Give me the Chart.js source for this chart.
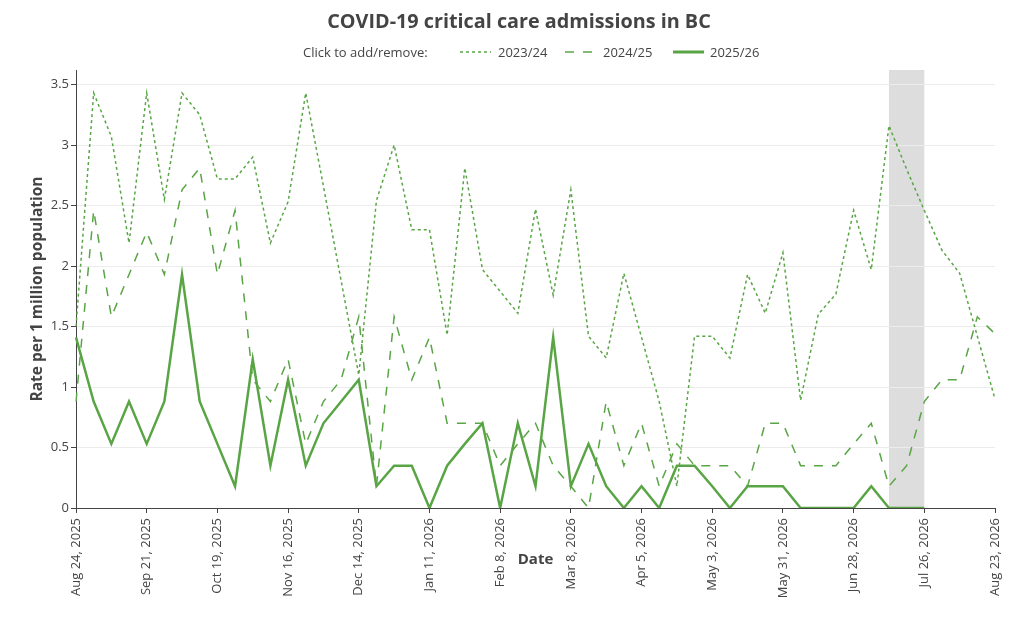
<!DOCTYPE html>
<html>
<head>
<meta charset="utf-8">
<script src="https://cdn.jsdelivr.net/npm/chart.js@4.4.1/dist/chart.umd.min.js"></script>
<style>
  html, body { margin: 0; padding: 0; background: #fff; }
  #wrap { position: relative; width: 1024px; height: 620px; font-family: 'Open Sans', sans-serif; color: #444; }
  #chart { position: absolute; left: 0; top: 0; }
  #title { position: absolute; left: 519px; top: 8px; transform: translateX(-50%); white-space: nowrap;
           font-size: 19.8px; font-weight: 700; line-height: 26px; color: #444; }
  .lg { position: absolute; top: 43px; font-size: 13px; line-height: 18px; white-space: nowrap; color: #444; }
  .lg.item { cursor: pointer; }
  .sw { position: absolute; top: 46px; cursor: pointer; }
</style>
</head>
<body>
<div id="wrap">
  <canvas id="chart" width="1024" height="620"></canvas>
  <div id="title">COVID-19 critical care admissions in BC</div>
  <div class="lg" style="left:303px">Click to add/remove:</div>
  <svg class="sw" data-ds="0" style="left:460px" width="31" height="12"><line x1="0" y1="6" x2="31" y2="6" stroke="#59a545" stroke-width="1.5" stroke-dasharray="3,3"/></svg>
  <div class="lg item" data-ds="0" style="left:498px">2023/24</div>
  <svg class="sw" data-ds="1" style="left:565px" width="31" height="12"><line x1="0" y1="6" x2="31" y2="6" stroke="#59a545" stroke-width="1.5" stroke-dasharray="9,9"/></svg>
  <div class="lg item" data-ds="1" style="left:603px">2024/25</div>
  <svg class="sw" data-ds="2" style="left:673px" width="31" height="12"><line x1="0" y1="6" x2="31" y2="6" stroke="#59a545" stroke-width="3"/></svg>
  <div class="lg item" data-ds="2" style="left:710px">2025/26</div>
</div>
<script>
// ---- data ----
const weeks = [
  'Aug 24, 2025','Aug 31, 2025','Sep 7, 2025','Sep 14, 2025','Sep 21, 2025','Sep 28, 2025','Oct 5, 2025','Oct 12, 2025',
  'Oct 19, 2025','Oct 26, 2025','Nov 2, 2025','Nov 9, 2025','Nov 16, 2025','Nov 23, 2025','Nov 30, 2025','Dec 7, 2025',
  'Dec 14, 2025','Dec 21, 2025','Dec 28, 2025','Jan 4, 2026','Jan 11, 2026','Jan 18, 2026','Jan 25, 2026','Feb 1, 2026',
  'Feb 8, 2026','Feb 15, 2026','Feb 22, 2026','Mar 1, 2026','Mar 8, 2026','Mar 15, 2026','Mar 22, 2026','Mar 29, 2026',
  'Apr 5, 2026','Apr 12, 2026','Apr 19, 2026','Apr 26, 2026','May 3, 2026','May 10, 2026','May 17, 2026','May 24, 2026',
  'May 31, 2026','Jun 7, 2026','Jun 14, 2026','Jun 21, 2026','Jun 28, 2026','Jul 5, 2026','Jul 12, 2026','Jul 19, 2026',
  'Jul 26, 2026','Aug 2, 2026','Aug 9, 2026','Aug 16, 2026','Aug 23, 2026'
];
const seasonNames = ['2023/24', '2024/25', '2025/26'];
const rate2023_24 = [
  1.50, 3.43, 3.07, 2.19, 3.43, 2.55, 3.43, 3.25, 2.72, 2.72, 2.90, 2.19, 2.53, 3.43, 2.66, 1.88,
  1.10, 2.54, 3.00, 2.30, 2.30, 1.43, 2.81, 1.97, 1.79, 1.61, 2.47, 1.76, 2.63, 1.42, 1.24, 1.94,
  1.41, 0.88, 0.18, 1.42, 1.42, 1.24, 1.93, 1.61, 2.11, 0.89, 1.60, 1.77, 2.46, 1.97, 3.16, 2.80,
  2.46, 2.13, 1.94, 1.42, 0.90
];
const rate2024_25 = [
  0.88, 2.46, 1.58, 1.93, 2.28, 1.93, 2.63, 2.81, 1.93, 2.46, 1.06, 0.88, 1.23, 0.53, 0.88, 1.06,
  1.58, 0.18, 1.58, 1.06, 1.41, 0.70, 0.70, 0.70, 0.35, 0.53, 0.70, 0.35, 0.18, 0.00, 0.88, 0.35,
  0.70, 0.18, 0.53, 0.35, 0.35, 0.35, 0.18, 0.70, 0.70, 0.35, 0.35, 0.35, 0.53, 0.70, 0.18, 0.35,
  0.88, 1.06, 1.06, 1.58, 1.44
];
const rate2025_26 = [
  1.41, 0.88, 0.53, 0.88, 0.53, 0.88, 1.93, 0.88, 0.53, 0.18, 1.23, 0.35, 1.06, 0.35, 0.70, 0.88,
  1.06, 0.18, 0.35, 0.35, 0.00, 0.35, 0.53, 0.70, 0.00, 0.70, 0.18, 1.41, 0.18, 0.53, 0.18, 0.00,
  0.18, 0.00, 0.35, 0.35, 0.18, 0.00, 0.18, 0.18, 0.18, 0.00, 0.00, 0.00, 0.00, 0.18, 0.00, 0.00,
  0.00, null, null, null, null
];
const yTickValues = [0, 0.5, 1, 1.5, 2, 2.5, 3, 3.5];
const highlightWeeks = ['Jul 12, 2026', 'Jul 26, 2026'];

// ---- styles ----
const GREEN = '#59a545';
const INK = '#444';

const bandPlugin = {
  id: 'band',
  beforeDraw(chart) {
    const xs = chart.scales.x, area = chart.chartArea, ctx = chart.ctx;
    const x1 = xs.getPixelForValue(weeks.indexOf(highlightWeeks[0]));
    const x2 = xs.getPixelForValue(weeks.indexOf(highlightWeeks[1]));
    ctx.save();
    ctx.fillStyle = '#dddddd';
    ctx.fillRect(x1, area.top, x2 - x1, area.bottom - area.top);
    ctx.restore();
  }
};

Chart.defaults.font.family = "'Open Sans', sans-serif";
Chart.defaults.color = INK;

const chart = new Chart(document.getElementById('chart'), {
  type: 'line',
  data: {
    labels: weeks,
    datasets: [
      { label: seasonNames[0], data: rate2023_24, borderColor: GREEN, borderWidth: 1.5, borderDash: [3, 3], order: 2 },
      { label: seasonNames[1], data: rate2024_25, borderColor: GREEN, borderWidth: 1.5, borderDash: [9, 9], order: 1 },
      { label: seasonNames[2], data: rate2025_26, borderColor: GREEN, borderWidth: 2.5, order: 0 }
    ]
  },
  options: {
    responsive: false,
    animation: false,
    layout: { padding: { top: 70, right: 29, bottom: 0, left: 0 } },
    elements: { point: { radius: 0, hoverRadius: 3 }, line: { tension: 0, fill: false } },
    interaction: { mode: 'index', intersect: false },
    plugins: { legend: { display: false }, title: { display: false } },
    scales: {
      x: {
        type: 'category',
        offset: false,
        grid: {
          drawOnChartArea: false,
          drawTicks: true,
          tickLength: 5,
          tickColor: (c) => (c.index % 4 === 0 ? INK : 'rgba(0,0,0,0)'),
          color: 'rgba(0,0,0,0)'
        },
        border: { display: true, color: INK, width: 1 },
        ticks: {
          autoSkip: false,
          minRotation: 90,
          maxRotation: 90,
          padding: 5,
          color: INK,
          font: { size: 13 },
          callback: function (v, i) { return i % 4 === 0 ? this.getLabelForValue(v) : ''; }
        },
        title: { display: true, text: 'Date', color: INK, font: { size: 15, weight: 'bold' }, padding: { top: 0, bottom: 51 } },
        afterFit(s) { s.height = 112; s.paddingLeft = 0; s.paddingRight = 0; }
      },
      y: {
        min: 0,
        max: 3.62,
        afterBuildTicks(s) { s.ticks = yTickValues.map(v => ({ value: v })); },
        grid: { color: '#ececec', lineWidth: 1, drawTicks: true, tickLength: 5, tickColor: INK },
        border: { display: true, color: INK, width: 1 },
        ticks: { padding: 2, color: INK, font: { size: 13 }, callback: (v) => String(v) },
        title: { display: true, text: 'Rate per 1 million population', color: INK, font: { size: 15.5, weight: 'bold' }, padding: { top: 28, bottom: 0 } },
        afterFit(s) { s.width = 76; s.paddingTop = 0; s.paddingBottom = 0; }
      }
    }
  },
  plugins: [bandPlugin]
});

document.querySelectorAll('[data-ds]').forEach(el => {
  el.addEventListener('click', () => {
    const i = +el.getAttribute('data-ds');
    const vis = chart.isDatasetVisible(i);
    chart.setDatasetVisibility(i, !vis);
    document.querySelectorAll('[data-ds="' + i + '"]').forEach(n => n.style.opacity = vis ? 0.4 : 1);
    chart.update();
  });
});
</script>
</body>
</html>
